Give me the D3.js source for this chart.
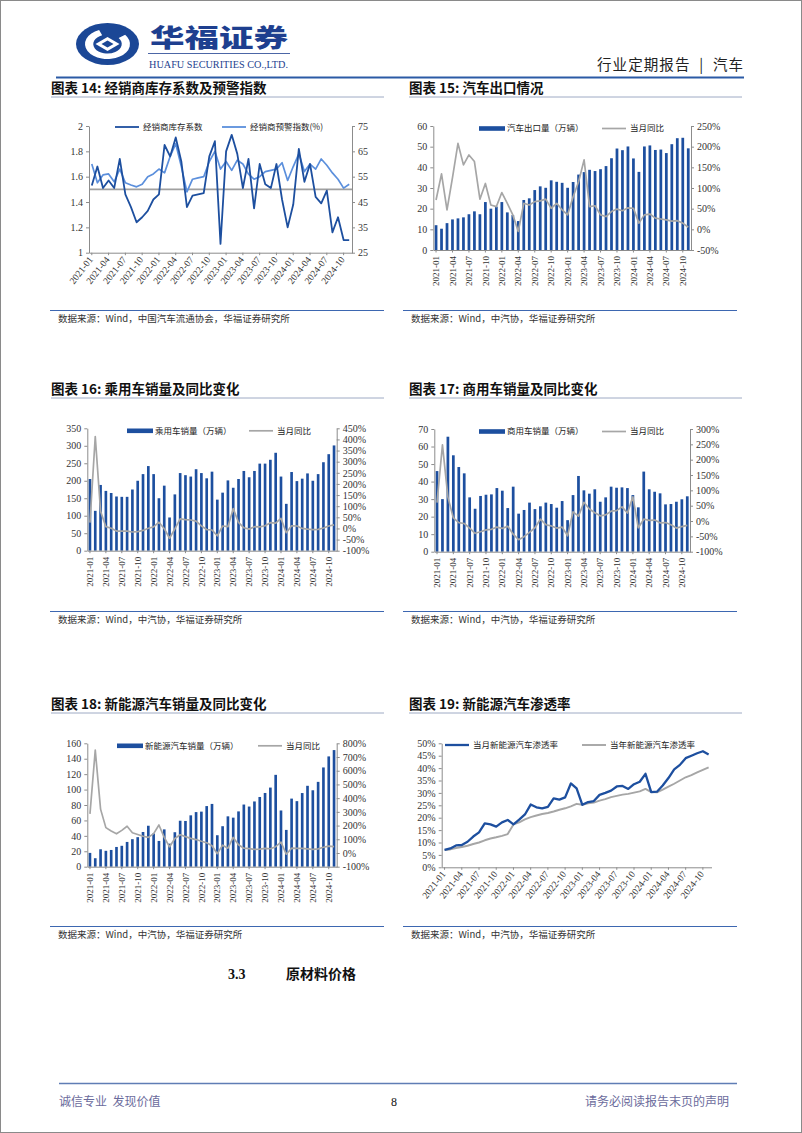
<!DOCTYPE html>
<html><head><meta charset="utf-8">
<script src="https://cdn.jsdelivr.net/npm/d3@7"></script>
<style>body{margin:0;background:#fff}svg{display:block}</style>
</head><body>
<svg id="page" width="802" height="1133"></svg>
<script>
// ---------- DATA ----------
const months = ["2021-01","2021-02","2021-03","2021-04","2021-05","2021-06","2021-07","2021-08","2021-09","2021-10","2021-11","2021-12",
"2022-01","2022-02","2022-03","2022-04","2022-05","2022-06","2022-07","2022-08","2022-09","2022-10","2022-11","2022-12",
"2023-01","2023-02","2023-03","2023-04","2023-05","2023-06","2023-07","2023-08","2023-09","2023-10","2023-11","2023-12",
"2024-01","2024-02","2024-03","2024-04","2024-05","2024-06","2024-07","2024-08","2024-09","2024-10","2024-11"];
const tickMonths = ["2021-01","2021-04","2021-07","2021-10","2022-01","2022-04","2022-07","2022-10","2023-01","2023-04","2023-07","2023-10","2024-01","2024-04","2024-07","2024-10"];

// Chart 14
const inventoryCoef = [1.53,1.68,1.51,1.57,1.51,1.74,1.46,1.36,1.24,1.28,1.33,1.42,1.46,1.85,1.76,1.91,1.72,1.36,1.45,1.46,1.47,1.76,1.88,1.07,1.80,1.93,1.78,1.51,1.74,1.35,1.70,1.54,1.51,1.70,1.42,1.20,1.38,1.82,1.56,1.70,1.44,1.39,1.49,1.16,1.28,1.10,1.10];
const alertIndex = [60.0,52.6,55.7,56.1,53.0,58.0,52.6,51.7,51.0,52.0,55.0,56.1,58.0,56.5,63.0,68.0,59.0,49.0,54.0,54.5,55.0,61.0,65.0,58.0,61.0,57.5,61.5,60.0,56.0,54.0,55.0,57.0,57.5,58.0,60.5,53.5,59.0,64.0,57.0,60.0,58.0,62.0,59.5,56.5,54.0,50.5,52.0];
const inventoryRef = 1.5;
const invTicks = [1,1.2,1.4,1.6,1.8,2];
const alertTicks = [25,35,45,55,65,75];

// Chart 15
const exports = [12.0,10.3,13.0,14.8,15.3,15.8,17.3,18.7,17.3,23.2,20.0,21.0,23.2,18.2,16.9,14.0,24.2,25.0,29.0,30.8,30.1,33.7,33.0,32.5,30.1,32.9,36.5,37.7,38.8,38.2,39.1,40.6,44.4,49.1,48.3,50.1,44.3,37.8,50.1,50.6,48.4,48.6,46.9,51.2,54.1,54.3,49.2];
const exportYoY = [71,134,47,125,208,156,180,164,73,111,59,55,89,63,35,-5,63,59,67,69,73,51,63,47,35,79,115,168,55,57,35,31,43,49,45,52,51,15,35,37,27,25,23,20,21,15,5];
const exportTicks = [0,10,20,30,40,50,60];
const exportYoYTicks = [-50,0,50,100,150,200,250];

// Chart 16
const pvSales = [205,114,188,171,165,155,154,154,175,200,219,242,219,150,186,95,161,222,216,212,233,222,207,226,146,166,201,180,205,228,210,228,249,249,260,280,212,134,225,199,206,221,200,219,253,276,301];
const pvYoY = [26,413,77,8,1,-12,-12,-12,-16,-14,-9,1,7,28,-1,-44,-2,43,40,38,33,11,-5,-7,-33,11,8,89,27,3,-3,8,7,12,26,24,45,-19,12,11,0,-3,-5,-4,2,11,16];
const pvTicks = [0,50,100,150,200,250,300,350];
const pvYoYTicks = [-100,-50,0,50,100,150,200,250,300,350,400,450];

// Chart 17
const cvSales = [46,30,65.6,55,48.3,44.7,31,24.5,31.8,32.5,32.7,36.3,34.8,24.9,37.1,21.7,23.8,28,24.3,25.9,28,27.2,25.1,28.9,18,32.3,43.2,35,33.1,35.6,28.5,31,37.1,36.5,36.7,36.3,32.3,25.3,45.7,35.6,34.2,33.3,27,27.2,28.5,29.9,31.6];
const cvYoY = [60,248,78,10,-5,-8,-23,-40,-35,-29,-27,-20,-24,-17,-43,-61,-51,-37,-22,6,-12,-16,-23,-20,-48,30,16,61,39,27,17,20,32,34,46,26,79,-22,6,2,3,-6,-5,-12,-23,-18,-14];
const cvTicks = [0,10,20,30,40,50,60,70];
const cvYoYTicks = [-100,-50,0,50,100,150,200,250,300];

// Chart 18
const nevSales = [17.9,11.0,22.6,20.6,21.7,25.6,27.1,32.1,35.7,38.3,45.0,53.1,43.1,33.4,48.4,29.9,44.7,59.6,59.3,66.6,70.8,71.4,78.6,81.4,40.8,52.5,65.3,63.6,71.7,80.6,78.0,84.6,90.4,95.6,102.6,119.1,72.9,47.7,88.3,85.0,95.5,104.9,99.1,110.0,128.7,143.0,151.2];
const nevYoY = [285,750,320,185,160,140,165,195,148,135,122,114,141,204,114,45,106,133,119,107,98,86,75,53,-5,57,35,113,60,35,32,27,28,34,31,46,79,-9,35,34,33,30,27,30,42,50,47];
const nevTicks = [0,20,40,60,80,100,120,140,160];
const nevYoYTicks = [-100,0,100,200,300,400,500,600,700,800];

// Chart 19
const nevMonthlyRate = [7.0,7.6,8.8,9.0,10.3,12.4,14.1,17.7,17.3,16.4,18.1,19.1,17.3,19.2,21.3,25.3,24.2,23.8,24.4,27.8,27.3,28.2,33.8,31.8,25.2,26.3,26.7,29.2,30.0,30.9,32.6,32.8,31.6,33.5,34.5,37.7,30.3,30.5,33.0,36.0,39.5,41.3,44.0,45.0,46.0,46.8,45.5];
const nevYtdRate = [7.0,7.2,7.8,8.2,8.7,9.4,10.0,10.9,11.6,12.1,12.7,13.4,17.3,18.1,19.3,20.2,20.9,21.5,21.9,22.5,23.2,23.8,24.6,25.6,25.2,25.8,26.1,26.9,27.5,28.3,28.8,29.3,29.6,30.1,30.6,31.6,30.3,30.2,31.3,32.5,33.7,35.0,36.3,37.2,38.3,39.3,40.3];
const rateTicks = [0,5,10,15,20,25,30,35,40,45,50];

// ---------- STYLE ----------
const SERIF = '"Liberation Serif","Times New Roman","Noto Sans CJK SC",serif';
const CJK = '"Noto Sans CJK SC","Liberation Serif",sans-serif';
const BLUE = '#1d4f9f', LBLUE = '#5b8fdc', GRAY = '#a6a6a6', AX = '#8c8c8c';
const NB = '\u00a0';

const svg = d3.select('#page');
svg.append('rect').attr('x',0.5).attr('y',0.5).attr('width',801).attr('height',1132).attr('fill','#fff').attr('stroke','#8a8a8a');

// ---------- HEADER ----------
const logo = svg.append('g').attr('transform','translate(107.5,44) scale(1.5,1)');
logo.append('circle').attr('r',21).attr('fill','#1b4796');
logo.append('path').attr('d',d3.arc()({innerRadius:9.5,outerRadius:15,startAngle:0.9,endAngle:5.9})).attr('fill','#fff');
logo.append('path').attr('d','M0,-7 L8,0 L0,7 L-8,0 Z').attr('fill','#fff');
logo.append('path').attr('d','M0,-3.5 L4,0 L0,3.5 L-4,0 Z').attr('fill','#1b4796');
svg.append('text').attr('x',150).attr('y',47).attr('font-family',CJK).attr('font-weight',900).attr('font-size',25)
  .attr('fill','#1e3f8f').attr('textLength',138).attr('lengthAdjust','spacingAndGlyphs').text('华福证券');
svg.append('line').attr('x1',148).attr('x2',290).attr('y1',53.5).attr('y2',53.5).attr('stroke','#1e3f8f').attr('stroke-width',0.8);
svg.append('text').attr('x',149).attr('y',68).attr('font-family',SERIF).attr('font-size',10.5).attr('fill','#1e3f8f')
  .attr('textLength',139).attr('lengthAdjust','spacingAndGlyphs').text('HUAFU SECURITIES CO.,LTD.');
svg.append('text').attr('x',743).attr('y',70).attr('text-anchor','end').attr('font-family',CJK).attr('font-size',14.5).attr('fill','#222')
  .attr('textLength',146).attr('lengthAdjust','spacing').text('行业定期报告' + NB + NB + '|' + NB + NB + '汽车');
svg.append('line').attr('x1',56).attr('x2',744).attr('y1',77.5).attr('y2',77.5).attr('stroke','#2b5aa5').attr('stroke-width',2);

// ---------- HELPERS ----------
function titleBlock(x, y, text) {
  svg.append('text').attr('x',x).attr('y',y).attr('font-family',CJK).attr('font-weight',700).attr('font-size',13.5).attr('fill','#111').text(text);
  svg.append('line').attr('x1',x).attr('x2',x+333).attr('y1',y+4.5).attr('y2',y+4.5).attr('stroke','#9eaac4').attr('stroke-width',1);
}
function sourceBlock(x, y, text) {
  svg.append('line').attr('x1',x-1).attr('x2',x+333).attr('y1',y).attr('y2',y).attr('stroke','#3d67b1').attr('stroke-width',1);
  svg.append('text').attr('x',x+7).attr('y',y+11).attr('font-family',CJK).attr('font-size',9.5).attr('fill','#333').text(text);
}
function styleAxis(a, fs) {
  a.select('.domain').attr('stroke',AX);
  a.selectAll('.tick line').attr('stroke',AX);
  a.selectAll('text').attr('font-family',SERIF).attr('font-size',fs).attr('fill','#333');
}
function xAxis(x, yb, mode) {
  const a = svg.append('g').attr('transform',`translate(0,${yb})`)
    .call(d3.axisBottom(x).tickValues(tickMonths).tickSize(2.5).tickSizeOuter(0));
  styleAxis(a, mode === 'diag' ? 9.5 : 9);
  if (mode === 'diag') {
    a.selectAll('text').attr('x',0).attr('y',0).attr('dy','0.35em').attr('text-anchor','end')
      .attr('transform','translate(-1,5) rotate(-52)');
  } else {
    a.selectAll('text').attr('x',0).attr('y',0).attr('dy','0.35em').attr('text-anchor','end')
      .attr('transform','translate(0,6) rotate(-90)');
  }
}
function yAxisL(y, xl, ticks, fmt) {
  const a = svg.append('g').attr('transform',`translate(${xl},0)`)
    .call(d3.axisLeft(y).tickValues(ticks).tickSize(3).tickSizeOuter(0).tickPadding(3).tickFormat(fmt));
  styleAxis(a, 10);
}
function yAxisR(y, xr, ticks, fmt) {
  const a = svg.append('g').attr('transform',`translate(${xr},0)`)
    .call(d3.axisRight(y).tickValues(ticks).tickSize(3).tickSizeOuter(0).tickPadding(3).tickFormat(fmt));
  styleAxis(a, 10);
}
const pct = d => d + '%';
function legendBar(x, y, text) {
  svg.append('rect').attr('x',x).attr('y',y-2.3).attr('width',26).attr('height',4.6).attr('fill',BLUE);
  svg.append('text').attr('x',x+28).attr('y',y).attr('dy','0.35em').attr('font-family',CJK).attr('font-size',8.5).attr('fill','#222').text(text);
}
function legendLine(x, y, color, w, text) {
  svg.append('line').attr('x1',x).attr('x2',x+24).attr('y1',y).attr('y2',y).attr('stroke',color).attr('stroke-width',w);
  svg.append('text').attr('x',x+28).attr('y',y).attr('dy','0.35em').attr('font-family',CJK).attr('font-size',8.5).attr('fill','#222').text(text);
}
function drawLine(x, y, values, color, w) {
  const line = d3.line().x((d,i) => x(months[i]) + x.bandwidth()/2).y(d => y(d));
  svg.append('path').datum(values).attr('d',line).attr('fill','none').attr('stroke',color)
    .attr('stroke-width',w).attr('stroke-linejoin','round');
}
function drawBars(x, y, values) {
  svg.append('g').selectAll('rect').data(values).join('rect')
    .attr('x',(d,i) => x(months[i]) + x.bandwidth()*0.25)
    .attr('width', x.bandwidth()*0.5)
    .attr('y', d => y(d)).attr('height', d => y(0) - y(d)).attr('fill', BLUE);
}
function comboChart(o) {
  const x = d3.scaleBand().domain(months).range([o.x0, o.x1]);
  const yL = d3.scaleLinear().domain(o.lDom).range([o.yb, o.yt]);
  const yR = d3.scaleLinear().domain(o.rDom).range([o.yb, o.yt]);
  drawBars(x, yL, o.bars);
  drawLine(x, yR, o.line, GRAY, 1.7);
  yAxisL(yL, o.x0, o.lTicks, d => d);
  yAxisR(yR, o.x1, o.rTicks, pct);
  xAxis(x, o.yb, 'vert');
  legendBar(o.lb, o.yt + 2.5, o.barName);
  legendLine(o.ll, o.yt + 2.5, GRAY, 1.7, '当月同比');
}

// ---------- TITLES / SOURCES ----------
titleBlock(51, 92.5, '图表 14: 经销商库存系数及预警指数');
titleBlock(409, 92.5, '图表 15: 汽车出口情况');
titleBlock(51, 393.5, '图表 16: 乘用车销量及同比变化');
titleBlock(409, 393.5, '图表 17: 商用车销量及同比变化');
titleBlock(51, 708.5, '图表 18: 新能源汽车销量及同比变化');
titleBlock(409, 708.5, '图表 19: 新能源汽车渗透率');
sourceBlock(51, 310.5, '数据来源：Wind，中国汽车流通协会，华福证券研究所');
sourceBlock(404, 310.5, '数据来源：Wind，中汽协，华福证券研究所');
sourceBlock(51, 611.5, '数据来源：Wind，中汽协，华福证券研究所');
sourceBlock(404, 611.5, '数据来源：Wind，中汽协，华福证券研究所');
sourceBlock(51, 926.5, '数据来源：Wind，中汽协，华福证券研究所');
sourceBlock(404, 926.5, '数据来源：Wind，中汽协，华福证券研究所');

// ---------- CHART 14 ----------
(function(){
  const x0 = 89, x1 = 352, yt = 126, yb = 252.7;
  const x = d3.scaleBand().domain(months).range([x0, x1]);
  const yL = d3.scaleLinear().domain([1,2]).range([yb, yt]);
  const yR = d3.scaleLinear().domain([25,75]).range([yb, yt]);
  svg.append('line').attr('x1',x0).attr('x2',x1).attr('y1',yL(inventoryRef)).attr('y2',yL(inventoryRef)).attr('stroke','#a0a0a0').attr('stroke-width',1.6);
  drawLine(x, yR, alertIndex, LBLUE, 1.7);
  drawLine(x, yL, inventoryCoef, BLUE, 1.8);
  yAxisL(yL, x0, invTicks, d => String(d));
  yAxisR(yR, x1, alertTicks, d => d);
  xAxis(x, yb, 'diag');
  legendLine(115, 127, BLUE, 1.8, '经销商库存系数');
  legendLine(222, 127, LBLUE, 1.8, '经销商预警指数(%)');
})();

// ---------- CHART 15-18 ----------
comboChart({x0:433.3, x1:691, yt:126, yb:250, lDom:[0,60], rDom:[-50,250], lTicks:exportTicks, rTicks:exportYoYTicks,
  bars:exports, line:exportYoY, barName:'汽车出口量（万辆）', lb:479, ll:602});
comboChart({x0:87.3, x1:336.7, yt:428.3, yb:550.7, lDom:[0,350], rDom:[-100,450], lTicks:pvTicks, rTicks:pvYoYTicks,
  bars:pvSales, line:pvYoY, barName:'乘用车销量（万辆）', lb:127, ll:249});
comboChart({x0:434.3, x1:690, yt:429, yb:551.7, lDom:[0,70], rDom:[-100,300], lTicks:cvTicks, rTicks:cvYoYTicks,
  bars:cvSales, line:cvYoY, barName:'商用车销量（万辆）', lb:479, ll:602});
comboChart({x0:87.3, x1:336.7, yt:743.3, yb:866.7, lDom:[0,160], rDom:[-100,800], lTicks:nevTicks, rTicks:nevYoYTicks,
  bars:nevSales, line:nevYoY, barName:'新能源汽车销量（万辆）', lb:117, ll:258});

// ---------- CHART 19 ----------
(function(){
  const x0 = 441.7, x1 = 711.5, yt = 743.3, yb = 867.3;
  const x = d3.scaleBand().domain(months).range([x0, x1]);
  const y = d3.scaleLinear().domain([0,50]).range([yb, yt]);
  drawLine(x, y, nevYtdRate, GRAY, 1.9);
  drawLine(x, y, nevMonthlyRate, BLUE, 2.3);
  yAxisL(y, x0, rateTicks, pct);
  xAxis(x, yb, 'diag');
  legendLine(445, 745, BLUE, 2.3, '当月新能源汽车渗透率');
  legendLine(582, 745, GRAY, 1.9, '当年新能源汽车渗透率');
})();

// ---------- SECTION / FOOTER ----------
svg.append('text').attr('x',228).attr('y',979).attr('font-family',SERIF).attr('font-weight',700).attr('font-size',14).attr('fill','#111').text('3.3');
svg.append('text').attr('x',286).attr('y',979).attr('font-family',CJK).attr('font-weight',700).attr('font-size',14).attr('fill','#111').text('原材料价格');
svg.append('line').attr('x1',59).attr('x2',737).attr('y1',1083.5).attr('y2',1083.5).attr('stroke','#5f7db5').attr('stroke-width',1.3);
svg.append('text').attr('x',59).attr('y',1106).attr('font-family',CJK).attr('font-size',12).attr('fill','#6b6b9c').text('诚信专业' + NB + NB + '发现价值');
svg.append('text').attr('x',394).attr('y',1106).attr('text-anchor','middle').attr('font-family',SERIF).attr('font-size',12).attr('fill','#111').text('8');
svg.append('text').attr('x',729).attr('y',1106).attr('text-anchor','end').attr('font-family',CJK).attr('font-size',12).attr('fill','#6b6b9c').text('请务必阅读报告末页的声明');
</script>
</body></html>
